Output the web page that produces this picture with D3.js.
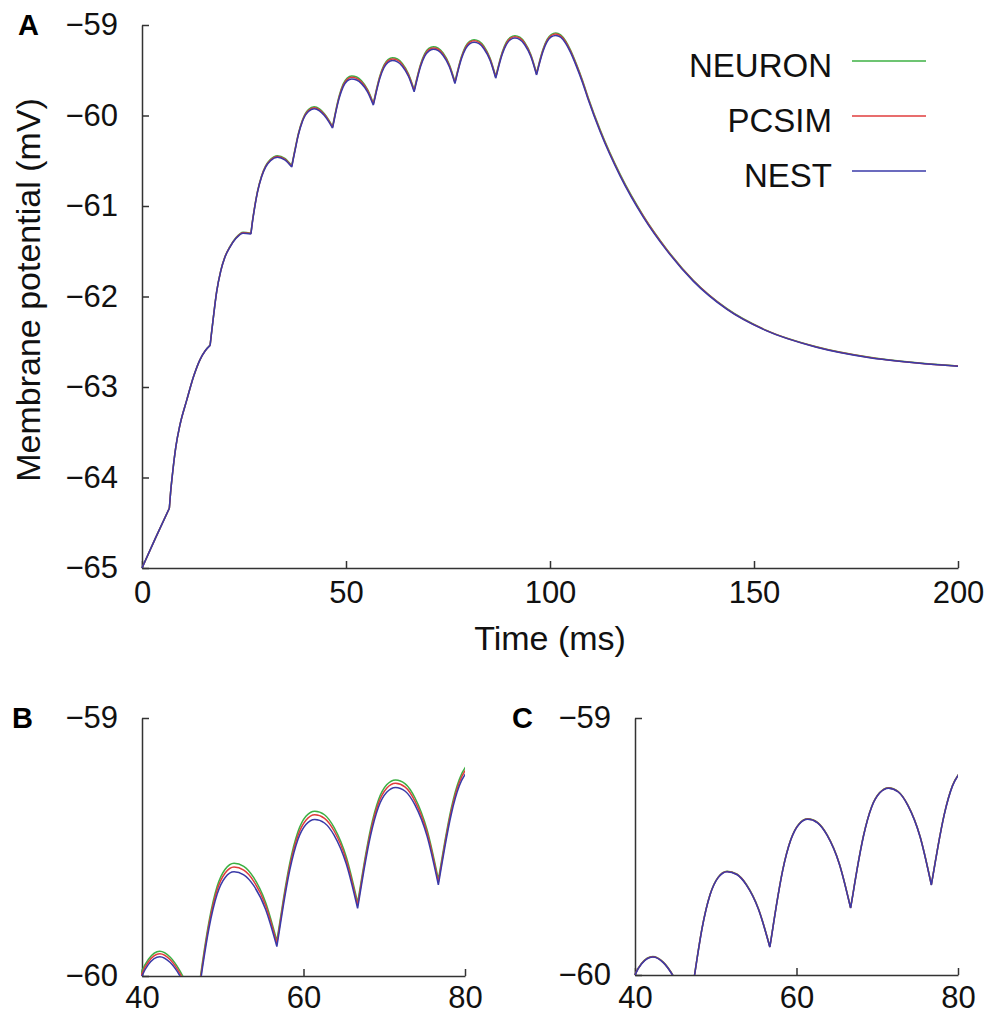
<!DOCTYPE html>
<html>
<head>
<meta charset="utf-8">
<script src="https://cdnjs.cloudflare.com/ajax/libs/d3/7.8.5/d3.min.js"></script>
<style>
    body { margin: 0; background: #fff; }
    svg { font-family: "Liberation Sans", Arial, Helvetica, sans-serif; }
    .axis path, .axis line { stroke: #333; stroke-width: 1.5px; }
    .axis text { font-size: 31px; fill: #111; }
</style>
</head>
<body>
<div id="figure"></div>
<script>

// full simulation, shown in A and zoomed in B (t in ms, V in mV)
var timeA = [0, 3.3, 6.7,
    7.0, 7.5, 8.3, 9.3, 11.0, 12.6, 14.2, 15.5, 16.7,
    17.0, 17.5, 18.3, 19.3, 20.3, 21.5, 23.0, 24.8, 26.7,
    27.0, 27.5, 28.3, 29.3, 30.3, 31.5, 33.2, 35.0, 36.7,
    37.0, 37.5, 38.3, 39.3, 40.0, 40.8, 42.2, 43.5, 44.7, 45.8, 46.7,
    47.0, 47.5, 48.3, 49.3, 50.3, 51.4, 52.6, 53.8, 55.3, 56.7,
    57.0, 57.5, 58.3, 59.3, 60.3, 61.4, 62.6, 63.8, 65.3, 66.7,
    67.0, 67.5, 68.3, 69.3, 70.3, 71.4, 72.6, 73.8, 75.3, 76.7,
    77.0, 77.5, 78.3, 79.3, 80.3, 81.4, 82.6, 83.8, 85.3, 86.7,
    87.0, 87.5, 88.3, 89.3, 90.3, 91.4, 92.6, 93.8, 95.3, 96.7,
    97.0, 97.5, 98.3, 99.3, 100.3, 101.4,
    102.6, 103.8, 105.0, 106.5, 108.0, 109.4, 112.3, 117.2, 122.9, 128.6, 135.1, 143.3, 153.1, 165.3, 177.6, 190.0, 200.0];

var neuronA = [-65.00, -64.67, -64.34,
    -64.17, -63.95, -63.66, -63.42, -63.14, -62.89, -62.70, -62.598, -62.536,
    -62.415, -62.225, -61.944, -61.714, -61.563, -61.452, -61.351, -61.290, -61.300,
    -61.189, -61.039, -60.838, -60.667, -60.556, -60.485, -60.444, -60.474, -60.555,
    -60.485, -60.374, -60.203, -60.052, -59.981, -59.935, -59.904, -59.927, -59.980, -60.051, -60.122,
    -60.055, -59.944, -59.788, -59.653, -59.586, -59.563, -59.575, -59.617, -59.714, -59.864,
    -59.805, -59.704, -59.563, -59.442, -59.381, -59.361, -59.375, -59.425, -59.539, -59.716,
    -59.660, -59.565, -59.431, -59.316, -59.259, -59.240, -59.255, -59.309, -59.433, -59.626,
    -59.571, -59.479, -59.349, -59.237, -59.181, -59.162, -59.178, -59.235, -59.366, -59.569,
    -59.516, -59.425, -59.299, -59.190, -59.136, -59.118, -59.134, -59.192, -59.326, -59.532,
    -59.480, -59.390, -59.266, -59.159, -59.105, -59.088,
    -59.108, -59.173, -59.274, -59.434, -59.615, -59.806, -60.158, -60.651, -61.109, -61.477, -61.820, -62.132, -62.375, -62.556, -62.667, -62.733, -62.768];

var pcsimA = [-65.00, -64.67, -64.34,
    -64.17, -63.95, -63.66, -63.42, -63.14, -62.89, -62.70, -62.599, -62.538,
    -62.417, -62.227, -61.947, -61.717, -61.566, -61.456, -61.355, -61.295, -61.305,
    -61.194, -61.044, -60.844, -60.673, -60.563, -60.492, -60.452, -60.482, -60.562,
    -60.492, -60.382, -60.211, -60.061, -59.990, -59.945, -59.914, -59.937, -59.990, -60.060, -60.131,
    -60.064, -59.954, -59.800, -59.667, -59.601, -59.578, -59.590, -59.631, -59.726, -59.874,
    -59.815, -59.715, -59.575, -59.456, -59.396, -59.375, -59.389, -59.438, -59.551, -59.726,
    -59.670, -59.575, -59.443, -59.329, -59.272, -59.253, -59.268, -59.322, -59.444, -59.636,
    -59.581, -59.489, -59.360, -59.249, -59.193, -59.175, -59.191, -59.247, -59.377, -59.578,
    -59.525, -59.435, -59.310, -59.202, -59.148, -59.130, -59.146, -59.204, -59.336, -59.541,
    -59.489, -59.400, -59.277, -59.171, -59.117, -59.100,
    -59.120, -59.185, -59.286, -59.446, -59.626, -59.817, -60.168, -60.660, -61.116, -61.483, -61.824, -62.136, -62.377, -62.558, -62.668, -62.734, -62.769];

var nestA = [-65.00, -64.67, -64.34,
    -64.17, -63.95, -63.66, -63.42, -63.14, -62.89, -62.70, -62.60, -62.54,
    -62.42, -62.23, -61.95, -61.72, -61.57, -61.46, -61.36, -61.30, -61.31,
    -61.20, -61.05, -60.85, -60.68, -60.57, -60.50, -60.46, -60.49, -60.57,
    -60.50, -60.39, -60.22, -60.07, -60.00, -59.955, -59.925, -59.948, -60.00, -60.07, -60.14,
    -60.075, -59.966, -59.814, -59.683, -59.618, -59.596, -59.608, -59.648, -59.741, -59.886,
    -59.827, -59.728, -59.590, -59.472, -59.413, -59.393, -59.407, -59.455, -59.566, -59.738,
    -59.682, -59.588, -59.457, -59.344, -59.288, -59.269, -59.284, -59.337, -59.458, -59.647,
    -59.592, -59.501, -59.373, -59.263, -59.208, -59.190, -59.206, -59.262, -59.390, -59.589,
    -59.536, -59.447, -59.323, -59.216, -59.163, -59.145, -59.161, -59.218, -59.349, -59.552,
    -59.500, -59.412, -59.290, -59.185, -59.132, -59.115,
    -59.135, -59.200, -59.300, -59.460, -59.640, -59.830, -60.180, -60.670, -61.125, -61.490, -61.830, -62.140, -62.380, -62.560, -62.670, -62.735, -62.770];

// second run, zoomed in C
var timeC = [39.3, 40.0, 40.8, 42.2, 43.5, 44.7, 45.8, 46.7,
    47.0, 47.5, 48.3, 49.3, 50.3, 51.4, 52.6, 53.8, 55.3, 56.7,
    57.0, 57.5, 58.3, 59.3, 60.3, 61.4, 62.6, 63.8, 65.3, 66.7,
    67.0, 67.5, 68.3, 69.3, 70.3, 71.4, 72.6, 73.8, 75.3, 76.7,
    77.0, 77.5, 78.3, 79.3, 80.3];

var neuronC = [-60.068, -59.998, -59.955, -59.928, -59.950, -60.001, -60.068, -60.138,
    -60.078, -59.973, -59.818, -59.686, -59.619, -59.596, -59.607, -59.648, -59.743, -59.890,
    -59.830, -59.730, -59.590, -59.472, -59.412, -59.392, -59.406, -59.455, -59.566, -59.738,
    -59.682, -59.588, -59.457, -59.345, -59.290, -59.271, -59.286, -59.339, -59.460, -59.648,
    -59.593, -59.502, -59.374, -59.264, -59.209];

var pcsimC = [-60.069, -59.999, -59.956, -59.929, -59.951, -60.002, -60.069, -60.139,
    -60.079, -59.974, -59.819, -59.687, -59.620, -59.597, -59.608, -59.649, -59.744, -59.891,
    -59.831, -59.731, -59.591, -59.473, -59.413, -59.393, -59.407, -59.456, -59.567, -59.739,
    -59.683, -59.589, -59.458, -59.346, -59.291, -59.272, -59.287, -59.340, -59.461, -59.649,
    -59.594, -59.503, -59.375, -59.265, -59.210];

var nestC = [-60.07, -60.00, -59.957, -59.930, -59.952, -60.003, -60.07, -60.14,
    -60.08, -59.975, -59.820, -59.688, -59.621, -59.598, -59.609, -59.650, -59.745, -59.892,
    -59.832, -59.732, -59.592, -59.474, -59.414, -59.394, -59.408, -59.457, -59.568, -59.740,
    -59.684, -59.590, -59.459, -59.347, -59.292, -59.273, -59.288, -59.341, -59.462, -59.650,
    -59.595, -59.504, -59.376, -59.266, -59.211];

// input spike times: the traces have a corner there
var spikeTimes = [6.7, 16.7, 26.7, 36.7, 46.7, 56.7, 66.7, 76.7, 86.7, 96.7];

var seriesNames = ['NEURON', 'PCSIM', 'NEST'];
var seriesColors = ['#3cb043', '#e03c3c', '#3a3aa8'];

var ticksTimeA = [0, 50, 100, 150, 200];
var ticksVoltA = [-65, -64, -63, -62, -61, -60, -59];
var ticksTimeZoom = [40, 60, 80];
var ticksVoltZoom = [-60, -59];

var svg = d3.select('#figure')
  .append('svg')
    .attr('width', 989)
    .attr('height', 1016);

// cut a trace into smooth pieces between spikes
function splitAtSpikes(points) {
    var pieces = [[]];
    points.forEach(function(p) {
        pieces[pieces.length - 1].push(p);
        if (spikeTimes.indexOf(p[0]) >= 0) {
            pieces.push([p]);
        }
    });
    return pieces.filter(function(piece) { return piece.length > 1; });
}

function drawPanel(cfg) {
    var x = d3.scaleLinear().domain(cfg.xDomain).range(cfg.xRange);
    var y = d3.scaleLinear().domain(cfg.yDomain).range(cfg.yRange);
    var clipId = 'clip-' + cfg.name;

    svg.append('clipPath')
        .attr('id', clipId)
      .append('rect')
        .attr('x', cfg.xRange[0] - 1)
        .attr('y', cfg.yRange[1] - 1)
        .attr('width', cfg.xRange[1] - cfg.xRange[0] + 1)
        .attr('height', cfg.yRange[0] - cfg.yRange[1] + 1);

    // axes, ticks pointing inwards
    svg.append('g')
        .attr('class', 'axis')
        .attr('transform', 'translate(0,' + cfg.yRange[0] + ')')
        .call(d3.axisBottom(x).tickValues(cfg.xTicks).tickSize(-7).tickSizeOuter(0)
            .tickPadding(cfg.xPad).tickFormat(d3.format('d')));
    svg.append('g')
        .attr('class', 'axis')
        .attr('transform', 'translate(' + cfg.xRange[0] + ',0)')
        .call(d3.axisLeft(y).tickValues(cfg.yTicks).tickSize(-7).tickSizeOuter(0)
            .tickPadding(24).tickFormat(d3.format('d')));

    var line = d3.line()
        .curve(d3.curveMonotoneX)
        .x(function(d) { return x(d[0]); })
        .y(function(d) { return y(d[1]); });

    cfg.traces.forEach(function(trace, i) {
        var pieces = splitAtSpikes(d3.zip(cfg.time, trace));
        svg.append('path')
            .attr('fill', 'none')
            .attr('stroke', seriesColors[i])
            .attr('stroke-width', 1.5)
            .attr('stroke-linejoin', 'miter')
            .attr('clip-path', 'url(#' + clipId + ')')
            .attr('d', pieces.map(line).join(''));
    });

    svg.append('text')
        .attr('x', cfg.letterX)
        .attr('y', cfg.letterY)
        .style('font-size', '29px')
        .style('font-weight', 'bold')
        .text(cfg.letter);
}

drawPanel({
    name: 'A', letter: 'A', letterX: 18, letterY: 35,
    xDomain: [0, 200], xRange: [142, 958],
    yDomain: [-65, -59], yRange: [568, 25],
    xTicks: ticksTimeA, yTicks: ticksVoltA, xPad: 13,
    time: timeA, traces: [neuronA, pcsimA, nestA]
});

drawPanel({
    name: 'B', letter: 'B', letterX: 12, letterY: 728,
    xDomain: [40, 80], xRange: [142, 465],
    yDomain: [-60, -59], yRange: [976, 718],
    xTicks: ticksTimeZoom, yTicks: ticksVoltZoom, xPad: 10,
    time: timeA, traces: [neuronA, pcsimA, nestA]
});

drawPanel({
    name: 'C', letter: 'C', letterX: 512, letterY: 728,
    xDomain: [40, 80], xRange: [635, 958],
    yDomain: [-60, -59], yRange: [975, 718],
    xTicks: ticksTimeZoom, yTicks: ticksVoltZoom, xPad: 11,
    time: timeC, traces: [neuronC, pcsimC, nestC]
});

// axis titles of A
svg.append('text')
    .attr('transform', 'translate(40,290) rotate(-90)')
    .attr('text-anchor', 'middle')
    .style('font-size', '34px')
    .style('fill', '#111')
    .text('Membrane potential (mV)');

svg.append('text')
    .attr('x', 550)
    .attr('y', 650)
    .attr('text-anchor', 'middle')
    .style('font-size', '34px')
    .style('fill', '#111')
    .text('Time (ms)');

// legend
var legend = svg.append('g')
    .selectAll('g')
    .data(seriesNames)
    .enter()
    .append('g')
    .attr('transform', function(d, i) { return 'translate(0,' + (61 + i * 55) + ')'; });

legend.append('text')
    .attr('x', 832)
    .attr('y', 16)
    .attr('text-anchor', 'end')
    .style('font-size', '33px')
    .style('fill', '#111')
    .text(function(d) { return d; });

legend.append('line')
    .attr('x1', 852)
    .attr('x2', 926)
    .attr('stroke', function(d, i) { return seriesColors[i]; })
    .attr('stroke-width', 1.5);

</script>
</body>
</html>
